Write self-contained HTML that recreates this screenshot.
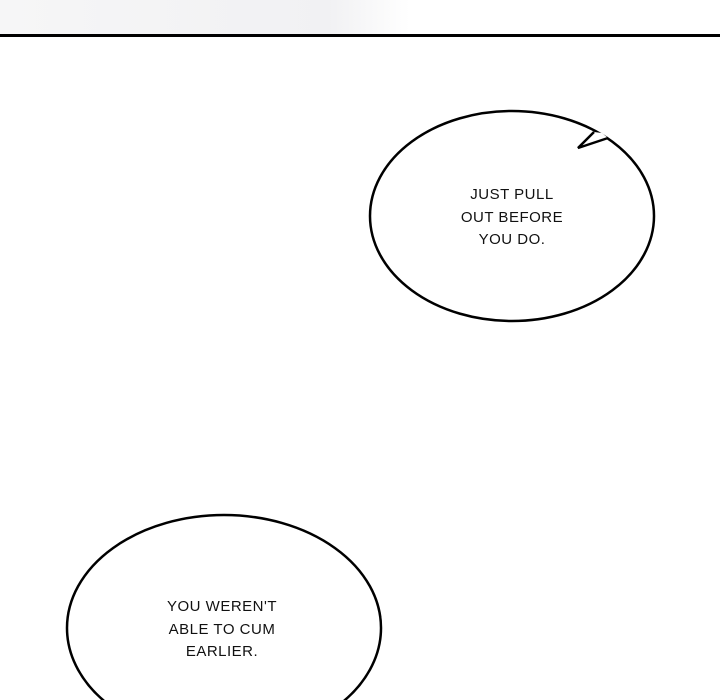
<!DOCTYPE html>
<html><head><style>
html,body{margin:0;padding:0;background:#fff;}
body{width:720px;height:700px;position:relative;overflow:hidden;}
.strip{position:absolute;left:0;top:0;width:410px;height:34px;background:linear-gradient(90deg,#f6f6f7,#f1f1f3 80%,#fff);}
.line{position:absolute;left:0;top:34px;width:720px;height:3px;background:#000;}
.t{position:absolute;font-family:"Liberation Sans",sans-serif;font-size:15px;line-height:22.5px;text-align:center;color:#111;letter-spacing:0.5px;}
</style></head><body>
<div class="strip"></div><div class="line"></div>
<svg width="720" height="700" style="position:absolute;left:0;top:0">
<ellipse cx="512" cy="216" rx="142" ry="105" fill="#fff" stroke="#000" stroke-width="2.5"/>
<polygon points="594,132 578,148 608,138 602,133" fill="#fff"/>
<polyline points="594,132 578,148 608,138" fill="none" stroke="#000" stroke-width="2.5" stroke-linejoin="miter"/>
<ellipse cx="224" cy="628" rx="157" ry="113" fill="#fff" stroke="#000" stroke-width="2.5"/>
</svg>
<div class="t" style="left:432px;top:184px;width:160px;">JUST PULL<br>OUT BEFORE<br>YOU DO.</div>
<div class="t" style="left:142px;top:596px;width:160px;">YOU WEREN'T<br>ABLE TO CUM<br>EARLIER.</div>
</body></html>
